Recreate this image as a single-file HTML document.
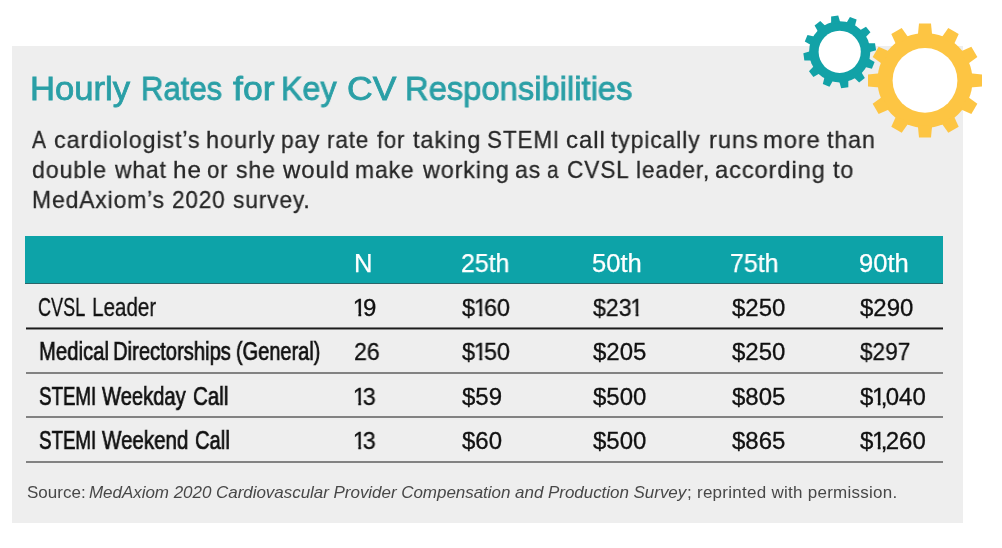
<!DOCTYPE html>
<html><head><meta charset="utf-8"><title>Hourly Rates for Key CV Responsibilities</title>
<style>
html,body{margin:0;padding:0;background:#fff;}
body{width:1002px;height:548px;position:relative;overflow:hidden;font-family:"Liberation Sans",sans-serif;}
.box{position:absolute;left:12px;top:46px;width:951px;height:476.5px;background:#eeeeee;}
.t{position:absolute;white-space:nowrap;transform-origin:0 0;line-height:1;will-change:transform;}
.title{font-size:33.5px;color:#2a9fa6;-webkit-text-stroke:0.8px #2a9fa6;}
.p{font-size:24.0px;color:#262626;}
.hdr{position:absolute;left:25px;top:236px;width:918px;height:47px;background:#0da3a8;border-bottom:1px solid #2a6569;}
.hd{font-size:25.6px;color:#fff;-webkit-text-stroke:0.25px #fff;}
.num{font-size:24px;color:#111;-webkit-text-stroke:0.3px #111;}
.num i{font-style:normal;display:inline-block;line-height:1;margin:0 -3.0px 0 -1.25px;clip-path:polygon(0 0,100% 0,100% 17px,8.45px 17px,8.45px 100%,5.65px 100%,5.65px 17px,0 17px);}.num b{font-weight:normal;margin:0 -1.7px}
.lab{font-size:25px;color:#111;}
.ln{position:absolute;left:26px;width:917px;}
.src{font-size:17.0px;color:#484848;}
svg{position:absolute;left:0;top:0;}
</style></head><body>
<div class="box"></div>
<div class="hdr"></div>
<div class="ln" style="top:327px;height:3px;background:linear-gradient(#7c7c7c 0,#7c7c7c 1px,#1b1b1b 1px,#1b1b1b 2px,#8c8c8c 2px,#8c8c8c 3px)"></div>
<div class="ln" style="top:372px;height:2px;background:#828282"></div>
<div class="ln" style="top:416px;height:2px;background:#828282"></div>
<div class="ln" style="top:461px;height:2px;background:#828282"></div>
<span class="t title" style="left:29.67px;top:72.00px;transform:scaleX(1.0337);">Hourly</span>
<span class="t title" style="left:140.92px;top:72.00px;transform:scaleX(0.9266);">Rates</span>
<span class="t title" style="left:232.50px;top:72.00px;transform:scaleX(1.0641);">for</span>
<span class="t title" style="left:281.43px;top:72.00px;transform:scaleX(0.9625);">Key</span>
<span class="t title" style="left:346.97px;top:72.00px;transform:scaleX(1.0601);">CV</span>
<span class="t title" style="left:405.40px;top:72.00px;transform:scaleX(0.9771);">Responsibilities</span>
<span class="t p" style="left:32.40px;top:128.10px;transform:scaleX(0.8750);-webkit-text-stroke:0.3px #2b2b2b;">A</span>
<span class="t p" style="left:53.93px;top:128.10px;letter-spacing:0.9px;transform:scaleX(0.9703);-webkit-text-stroke:0.3px #2b2b2b;">cardiologist’s</span>
<span class="t p" style="left:205.53px;top:128.10px;letter-spacing:0.9px;transform:scaleX(0.9825);-webkit-text-stroke:0.3px #2b2b2b;">hourly</span>
<span class="t p" style="left:281.38px;top:128.10px;letter-spacing:0.9px;transform:scaleX(0.9475);-webkit-text-stroke:0.3px #2b2b2b;">pay</span>
<span class="t p" style="left:327.30px;top:128.10px;letter-spacing:0.9px;transform:scaleX(0.9353);-webkit-text-stroke:0.3px #2b2b2b;">rate</span>
<span class="t p" style="left:376.77px;top:128.10px;letter-spacing:0.9px;transform:scaleX(0.9181);-webkit-text-stroke:0.3px #2b2b2b;">for</span>
<span class="t p" style="left:413.05px;top:128.10px;letter-spacing:0.9px;transform:scaleX(0.9813);-webkit-text-stroke:0.3px #2b2b2b;">taking</span>
<span class="t p" style="left:486.86px;top:128.10px;letter-spacing:0.9px;transform:scaleX(0.9370);-webkit-text-stroke:0.3px #2b2b2b;">STEMI</span>
<span class="t p" style="left:566.01px;top:128.10px;letter-spacing:0.9px;transform:scaleX(0.9917);-webkit-text-stroke:0.3px #2b2b2b;">call</span>
<span class="t p" style="left:611.26px;top:128.10px;letter-spacing:0.9px;transform:scaleX(0.9584);-webkit-text-stroke:0.3px #2b2b2b;">typically</span>
<span class="t p" style="left:708.52px;top:128.10px;letter-spacing:0.9px;transform:scaleX(0.9852);-webkit-text-stroke:0.3px #2b2b2b;">runs</span>
<span class="t p" style="left:763.42px;top:128.10px;letter-spacing:0.9px;transform:scaleX(0.9882);-webkit-text-stroke:0.3px #2b2b2b;">more</span>
<span class="t p" style="left:827.46px;top:128.10px;letter-spacing:0.9px;transform:scaleX(0.9706);-webkit-text-stroke:0.3px #2b2b2b;">than</span>
<span class="t p" style="left:31.63px;top:158.40px;letter-spacing:0.9px;transform:scaleX(0.9659);-webkit-text-stroke:0.3px #2b2b2b;">double</span>
<span class="t p" style="left:115.04px;top:158.40px;letter-spacing:0.9px;transform:scaleX(0.9523);-webkit-text-stroke:0.3px #2b2b2b;">what</span>
<span class="t p" style="left:172.79px;top:158.40px;letter-spacing:0.9px;transform:scaleX(1.0099);-webkit-text-stroke:0.3px #2b2b2b;">he</span>
<span class="t p" style="left:206.68px;top:158.40px;letter-spacing:0.9px;transform:scaleX(0.9234);-webkit-text-stroke:0.3px #2b2b2b;">or</span>
<span class="t p" style="left:236.42px;top:158.40px;letter-spacing:0.9px;transform:scaleX(0.9577);-webkit-text-stroke:0.3px #2b2b2b;">she</span>
<span class="t p" style="left:283.05px;top:158.40px;letter-spacing:0.9px;transform:scaleX(0.9969);-webkit-text-stroke:0.3px #2b2b2b;">would</span>
<span class="t p" style="left:355.27px;top:158.40px;letter-spacing:0.9px;transform:scaleX(0.9534);-webkit-text-stroke:0.3px #2b2b2b;">make</span>
<span class="t p" style="left:422.74px;top:158.40px;letter-spacing:0.9px;transform:scaleX(0.9735);-webkit-text-stroke:0.3px #2b2b2b;">working</span>
<span class="t p" style="left:515.34px;top:158.40px;letter-spacing:0.9px;transform:scaleX(0.9590);-webkit-text-stroke:0.3px #2b2b2b;">as</span>
<span class="t p" style="left:547.06px;top:158.40px;transform:scaleX(0.8600);-webkit-text-stroke:0.3px #2b2b2b;">a</span>
<span class="t p" style="left:566.65px;top:158.40px;letter-spacing:0.9px;transform:scaleX(0.9451);-webkit-text-stroke:0.3px #2b2b2b;">CVSL</span>
<span class="t p" style="left:636.38px;top:158.40px;letter-spacing:0.9px;transform:scaleX(0.9459);-webkit-text-stroke:0.3px #2b2b2b;">leader,</span>
<span class="t p" style="left:715.01px;top:158.40px;letter-spacing:0.9px;transform:scaleX(0.9862);-webkit-text-stroke:0.3px #2b2b2b;">according</span>
<span class="t p" style="left:833.06px;top:158.40px;letter-spacing:0.9px;transform:scaleX(0.9749);-webkit-text-stroke:0.3px #2b2b2b;">to</span>
<span class="t p" style="left:31.73px;top:187.90px;letter-spacing:0.9px;transform:scaleX(0.9547);-webkit-text-stroke:0.3px #2b2b2b;">MedAxiom’s</span>
<span class="t p" style="left:172.16px;top:187.90px;letter-spacing:0.9px;transform:scaleX(0.9391);-webkit-text-stroke:0.3px #2b2b2b;">2020</span>
<span class="t p" style="left:233.03px;top:187.90px;letter-spacing:0.9px;transform:scaleX(0.9477);-webkit-text-stroke:0.3px #2b2b2b;">survey.</span>
<span class="t src" style="left:26.55px;top:484.10px;letter-spacing:0.008px;">Source:</span>
<span class="t src" style="left:89.30px;top:484.10px;letter-spacing:-0.039px;font-style:italic;">MedAxiom 2020 Cardiovascular Provider Compensation and Production Survey</span>
<span class="t src" style="left:686.70px;top:484.10px;letter-spacing:0.263px;">; reprinted with permission.</span>
<span class="t lab" style="left:38.30px;top:295.20px;transform:scaleX(0.7225);-webkit-text-stroke:0.3px #111;">CVSL</span>
<span class="t lab" style="left:91.85px;top:295.20px;transform:scaleX(0.8252);-webkit-text-stroke:0.3px #111;">Leader</span>
<span class="t lab" style="left:38.58px;top:339.30px;transform:scaleX(0.8120);-webkit-text-stroke:0.7px #111;">Medical</span>
<span class="t lab" style="left:113.39px;top:339.30px;transform:scaleX(0.8084);-webkit-text-stroke:0.7px #111;">Directorships</span>
<span class="t lab" style="left:236.00px;top:339.30px;transform:scaleX(0.7990);-webkit-text-stroke:0.7px #111;">(General)</span>
<span class="t lab" style="left:39.04px;top:383.70px;transform:scaleX(0.7485);-webkit-text-stroke:0.7px #111;">STEMI</span>
<span class="t lab" style="left:102.20px;top:383.70px;transform:scaleX(0.8067);-webkit-text-stroke:0.7px #111;">Weekday</span>
<span class="t lab" style="left:192.78px;top:383.70px;transform:scaleX(0.8221);-webkit-text-stroke:0.7px #111;">Call</span>
<span class="t lab" style="left:39.04px;top:428.00px;transform:scaleX(0.7485);-webkit-text-stroke:0.7px #111;">STEMI</span>
<span class="t lab" style="left:102.21px;top:428.00px;transform:scaleX(0.8211);-webkit-text-stroke:0.7px #111;">Weekend</span>
<span class="t lab" style="left:194.99px;top:428.00px;transform:scaleX(0.8074);-webkit-text-stroke:0.7px #111;">Call</span>
<span class="t hd" style="left:354.00px;top:251.20px;">N</span>
<span class="t hd" style="left:460.78px;top:251.20px;transform:scaleX(0.9723);">25th</span>
<span class="t hd" style="left:591.80px;top:251.20px;">50th</span>
<span class="t hd" style="left:729.98px;top:251.20px;transform:scaleX(0.9745);">75th</span>
<span class="t hd" style="left:859.00px;top:251.20px;">90th</span>
<span class="t num" style="left:354.20px;top:296.20px;"><i>1</i>9</span>
<span class="t num" style="left:461.76px;top:296.20px;transform:scaleX(0.9771);">$<i>1</i>60</span>
<span class="t num" style="left:592.56px;top:296.20px;transform:scaleX(0.9617);">$23<i>1</i></span>
<span class="t num" style="left:731.55px;top:296.20px;">$250</span>
<span class="t num" style="left:860.05px;top:296.20px;">$290</span>
<span class="t num" style="left:354.23px;top:340.30px;transform:scaleX(0.9657);">26</span>
<span class="t num" style="left:461.76px;top:340.30px;transform:scaleX(0.9771);">$<i>1</i>50</span>
<span class="t num" style="left:592.55px;top:340.30px;">$205</span>
<span class="t num" style="left:731.55px;top:340.30px;">$250</span>
<span class="t num" style="left:860.06px;top:340.30px;transform:scaleX(0.9423);">$297</span>
<span class="t num" style="left:354.23px;top:384.70px;transform:scaleX(0.9707);"><i>1</i>3</span>
<span class="t num" style="left:461.75px;top:384.70px;">$59</span>
<span class="t num" style="left:592.55px;top:384.70px;">$500</span>
<span class="t num" style="left:731.55px;top:384.70px;">$805</span>
<span class="t num" style="left:860.05px;top:384.70px;">$<i>1</i><b>,</b>040</span>
<span class="t num" style="left:354.23px;top:429.00px;transform:scaleX(0.9707);"><i>1</i>3</span>
<span class="t num" style="left:461.75px;top:429.00px;">$60</span>
<span class="t num" style="left:592.55px;top:429.00px;">$500</span>
<span class="t num" style="left:731.55px;top:429.00px;">$865</span>
<span class="t num" style="left:860.05px;top:429.00px;">$<i>1</i><b>,</b>260</span>
<svg width="1002" height="548" viewBox="0 0 1002 548">
<circle cx="839.7" cy="51.8" r="30.6" fill="#12a2a7"/>
<polygon points="831.11,24.43 831.10,16.45 838.23,15.45 840.42,23.12" fill="#12a2a7"/>
<polygon points="845.94,23.80 849.92,16.89 856.60,19.58 854.66,27.32" fill="#12a2a7"/>
<polygon points="859.11,30.67 866.01,26.68 870.44,32.35 864.89,38.08" fill="#12a2a7"/>
<polygon points="867.07,43.21 875.05,43.20 876.05,50.33 868.38,52.52" fill="#12a2a7"/>
<polygon points="867.70,58.04 874.61,62.02 871.92,68.70 864.18,66.76" fill="#12a2a7"/>
<polygon points="860.83,71.21 864.82,78.11 859.15,82.54 853.42,76.99" fill="#12a2a7"/>
<polygon points="848.29,79.17 848.30,87.15 841.17,88.15 838.98,80.48" fill="#12a2a7"/>
<polygon points="833.46,79.80 829.48,86.71 822.80,84.02 824.74,76.28" fill="#12a2a7"/>
<polygon points="820.29,72.93 813.39,76.92 808.96,71.25 814.51,65.52" fill="#12a2a7"/>
<polygon points="812.33,60.39 804.35,60.40 803.35,53.27 811.02,51.08" fill="#12a2a7"/>
<polygon points="811.70,45.56 804.79,41.58 807.48,34.90 815.22,36.84" fill="#12a2a7"/>
<polygon points="818.57,32.39 814.58,25.49 820.25,21.06 825.98,26.61" fill="#12a2a7"/>
<circle cx="839.7" cy="51.8" r="21.1" fill="#fff"/>
<circle cx="925.0" cy="80.4" r="47.5" fill="#fdc543"/>
<polygon points="917.85,35.20 919.00,23.40 931.00,23.40 932.15,35.20" fill="#fdc543"/>
<polygon points="941.41,37.68 948.30,28.04 958.70,34.04 953.79,44.83" fill="#fdc543"/>
<polygon points="960.57,51.61 971.36,46.70 977.36,57.10 967.72,63.99" fill="#fdc543"/>
<polygon points="970.20,73.25 982.00,74.40 982.00,86.40 970.20,87.55" fill="#fdc543"/>
<polygon points="967.72,96.81 977.36,103.70 971.36,114.10 960.57,109.19" fill="#fdc543"/>
<polygon points="953.79,115.97 958.70,126.76 948.30,132.76 941.41,123.12" fill="#fdc543"/>
<polygon points="932.15,125.60 931.00,137.40 919.00,137.40 917.85,125.60" fill="#fdc543"/>
<polygon points="908.59,123.12 901.70,132.76 891.30,126.76 896.21,115.97" fill="#fdc543"/>
<polygon points="889.43,109.19 878.64,114.10 872.64,103.70 882.28,96.81" fill="#fdc543"/>
<polygon points="879.80,87.55 868.00,86.40 868.00,74.40 879.80,73.25" fill="#fdc543"/>
<polygon points="882.28,63.99 872.64,57.10 878.64,46.70 889.43,51.61" fill="#fdc543"/>
<polygon points="896.21,44.83 891.30,34.04 901.70,28.04 908.59,37.68" fill="#fdc543"/>
<circle cx="925.0" cy="80.4" r="32.4" fill="#fff"/>
</svg>
</body></html>
